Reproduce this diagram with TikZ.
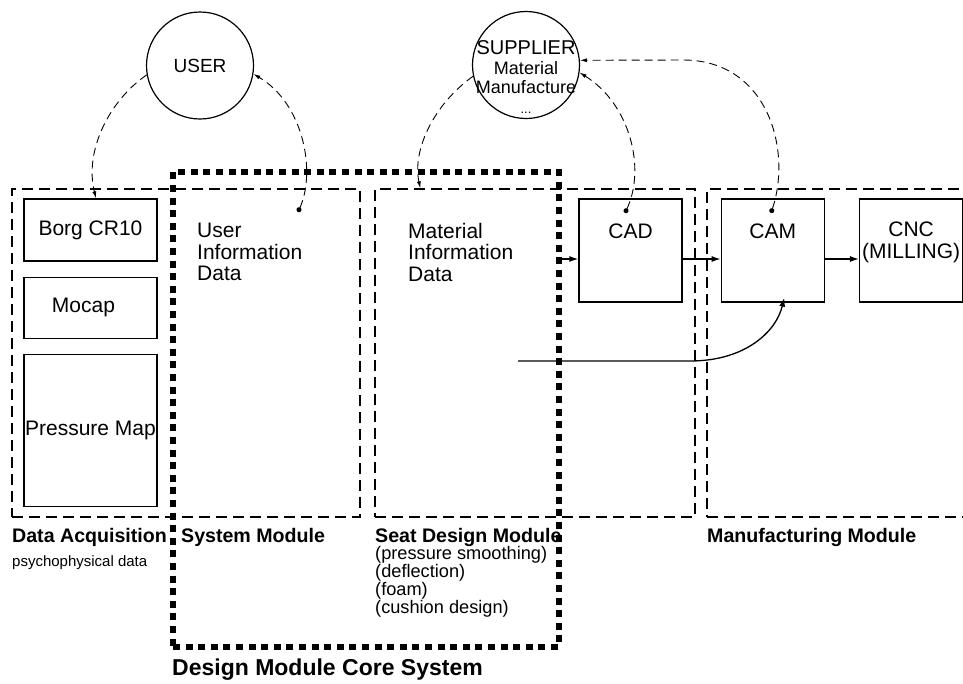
\documentclass[tikz,border=0pt]{standalone}
\usepackage{fontspec}
\setmainfont{Liberation Sans}
\usepackage{tikz}
\usetikzlibrary{arrows.meta,fit,positioning}
\newcommand{\bodyfont}{\fontsize{21}{21.5}\selectfont}
\newcommand{\notefont}{\fontsize{18.2}{16.2}\selectfont}
\newcommand{\modfont}{\fontsize{19.6}{21}\selectfont\bfseries}

\begin{document}
\begin{tikzpicture}[
  x=1pt, y=-1pt,
  modbox/.style={draw, dash pattern=on 11pt off 6pt, line width=1.3pt, inner sep=0pt},
  corebox/.style={draw, dash pattern=on 7pt off 5.6pt, line width=6.5pt, inner sep=0pt},
  unit/.style={draw, line width=1.3pt, minimum width=133pt, inner sep=0.5pt, font=\bodyfont},
  toolbox/.style={draw, line width=1.3pt, minimum width=103pt, minimum height=103pt},
  entity/.style={draw, circle, line width=1.2pt, minimum size=107pt, inner sep=0pt},
  modlabel/.style={anchor=base west, inner sep=0pt, font=\modfont},
  flow/.style={-{Latex[length=9pt,width=6pt]}, line width=1.3pt},
  link/.style={-{Latex[length=7pt,width=4pt]}, dash pattern=on 8pt off 5pt, line width=0.9pt},
  dotlink/.style={link, {Circle[length=5pt]}-{Latex[length=7pt,width=4pt]}}
]
\clip (0,0) rectangle (963,683);

% module frames
\node[modbox, fit={(12,189) (360,517)}] (acqmod) {};
\node[modbox, fit={(375,189) (695,517)}] (seatmod) {};
\node[modbox, fit={(707,189) (975,517)}] (manmod) {};
\node[corebox, fit={(173,172) (559,647)}] (core) {};

% data acquisition units
\node[unit, minimum height=62pt] (borg) at (90.5,230) {Borg CR10};
\node[unit, minimum height=61pt, below=15pt of borg] (mocap) {Mocap\rule{14pt}{0pt}};
\node[unit, minimum height=152pt, below=15pt of mocap] (pmap) {Pressure Map};

\node[anchor=north west, inner sep=0pt, align=left, font=\bodyfont] (userinfo) at (197,223) {User\\Information\\Data};
\node[anchor=north west, inner sep=0pt, align=left, font=\bodyfont] (matinfo) at (408,223) {Material\\Information\\Data};

% manufacturing chain
\node[toolbox] (cad) at (630.5,250.5) {};
\node[toolbox, right=38pt of cad] (cam) {};
\node[toolbox, right=34pt of cam] (cnc) {};
\node[font=\bodyfont] (cadtext) at ([yshift=-33pt]cad.north) {CAD};
\node[font=\bodyfont] (camtext) at ([yshift=-33pt]cam.north) {CAM};
\node[font=\bodyfont, align=center] (cnctext) at ([yshift=-44pt]cnc.north) {CNC\\(MILLING)};

% outside parties
\node[entity, font=\fontsize{19}{20}\selectfont] (user) at (200,65.5) {USER};
\node[entity] (supplier) at (526,65) {};
\node[align=center, inner sep=0pt, font=\fontsize{18}{19.5}\selectfont] (suppliertext) at ([yshift=-12pt]supplier.center)
  {{\fontsize{20}{19.5}\selectfont SUPPLIER}\\Material\\Manufacture\\{\fontsize{13}{19.5}\selectfont ...}};

% module captions
\node[modlabel] (acqlabel) at (12,542) {Data Acquisition};
\node[modlabel] (syslabel) at (181,542) {System Module};
\node[modlabel] (seatlabel) at (375,542) {Seat Design Module};
\node[modlabel] (manlabel) at (707,542) {Manufacturing Module};
\node[anchor=base west, inner sep=0pt, font=\fontsize{15}{16}\selectfont] (psylabel) at (12,566) {psychophysical data};
\node[anchor=north west, inner sep=0pt, align=left, font=\notefont] (seatnotes) at (375,546)
  {(pressure smoothing)\\(deflection)\\(foam)\\(cushion design)};
\node[anchor=base west, inner sep=0pt, font=\fontsize{23}{24}\selectfont\bfseries] (corelabel) at (172,675) {Design Module Core System};

% dashed information links
\coordinate (userdot) at (298,212);
\coordinate (caddot) at (625,213);
\coordinate (camdot) at (771,213);
\coordinate (camturn) at (683,60);
\draw[link] (user.190) .. controls (110,100) and (84,150) .. ([xshift=5.5pt]borg.north);
\draw[dotlink] (userdot) .. controls (316,172) and (304,104) .. (user.351);
\draw[link] (supplier.192) .. controls (434,104) and (412,150) .. ([xshift=46pt]seatmod.north west);
\draw[dotlink] (caddot) .. controls (646,168) and (630,104) .. (supplier.352);
\draw[dotlink] (camdot) .. controls (792,150) and (768,60) .. (camturn) -- (supplier.5);

% process flow
\coordinate (cadin) at ([yshift=-8.5pt]cad.west);
\coordinate (seatout) at (518,361);
\draw[flow] (cadin -| core.east) -- (cadin);
\draw[flow] (cad.east |- cadin) -- (cam.west |- cadin);
\draw[flow] (cam.east |- cadin) -- (cnc.west |- cadin);
\draw[flow] (seatout) -- (690,361) .. controls (745,361) and (776,332) .. ([xshift=11.5pt,yshift=5pt]cam.south);
\end{tikzpicture}
\end{document}
